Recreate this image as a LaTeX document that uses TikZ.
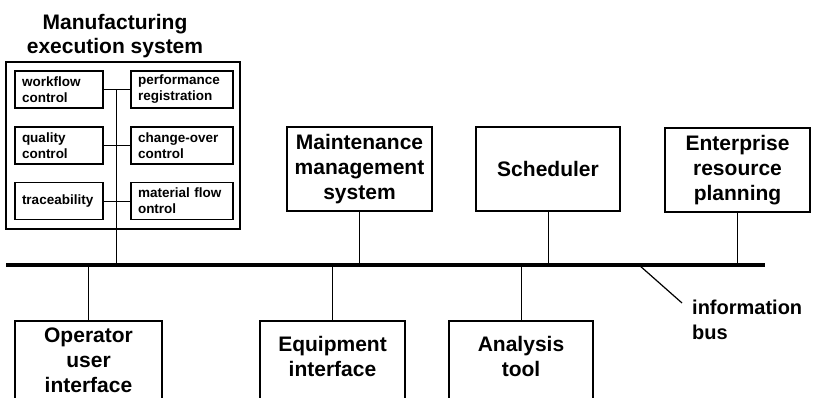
\documentclass[tikz,border=0pt]{standalone}
\usepackage{fontspec}
\setmainfont{Liberation Sans}
\begin{document}
\begin{tikzpicture}[x=1pt,y=-1pt,
  big/.style={font=\bfseries\fontsize{21}{25}\selectfont, align=center, inner sep=0pt},
  small/.style={font=\bfseries\fontsize{13.5}{16}\selectfont, align=left},
  sysbox/.style={draw, line width=1.5pt, inner sep=0pt, big},
  subbox/.style={draw, line width=1.6pt, small, inner xsep=7pt, inner ysep=0pt, minimum height=37pt},
  link/.style={line width=1pt},
  busline/.style={line width=4.5pt}]

\path[use as bounding box, clip] (0,0) rectangle (813,398);
\fill[white] (0,0) rectangle (813,398);

% information bus end points
\coordinate (busL) at (6,265);
\coordinate (busR) at (765,265);

% manufacturing execution system with its modules
\node[big, font=\bfseries\fontsize{21}{24}\selectfont, anchor=north] (mestitle) at (115,14) {Manufacturing\\execution system};
\node[draw, line width=2pt, minimum width=234pt, minimum height=167pt, inner sep=0pt] (mes) at (123,145.5) {};

\node[subbox, text width=74pt] (wf) at (59,89.5) {workflow\\control};
\node[subbox, text width=88pt] (pr) at (182,89.5) {performance\\registration};
\node[subbox, text width=74pt] (qc) at (59,145.5) {quality\\control};
\node[subbox, text width=88pt] (co) at (182,145.5) {change-over\\control};
\node[subbox, text width=74pt] (tr) at (59,201) {traceability};
\node[subbox, text width=88pt] (mf) at (182,201) {material flow\\ontrol};

\draw[link] (wf.east) -- (pr.west);
\draw[link] (qc.east) -- (co.west);
\draw[link] (tr.east) -- (mf.west);
\coordinate (mv) at (116,89.5);
\draw[link] (mv) -- (mv |- busL);

% systems above the bus
\node[sysbox, minimum width=145pt, minimum height=84pt] (mms) at (359.5,169) {Maintenance\\management\\system};
\node[sysbox, minimum width=144pt, minimum height=84pt] (sch) at (548,169) {Scheduler};
\node[sysbox, minimum width=145pt, minimum height=84pt] (erp) at (737.5,170) {Enterprise\\resource\\planning};

\draw[link] (mms.south) -- (mms.south |- busL);
\draw[link] (sch.south) -- (sch.south |- busL);
\draw[link] (erp.south) -- (erp.south |- busL);

% systems below the bus
\node[sysbox, minimum width=147pt, minimum height=100pt, anchor=north] (oui) at (88.5,320) {};
\node[big, anchor=north] (ouitext) at (88.5,328) {Operator\\user\\interface};
\node[sysbox, minimum width=145pt, minimum height=100pt, anchor=north] (eqi) at (332.5,320) {};
\node[big, anchor=north] (eqitext) at (332.5,336.5) {Equipment\\interface};
\node[sysbox, minimum width=144pt, minimum height=100pt, anchor=north] (ant) at (521,320) {};
\node[big, anchor=north] (anttext) at (521,336.5) {Analysis\\tool};

\draw[link] (oui.north) -- (oui.north |- busL);
\draw[link] (eqi.north) -- (eqi.north |- busL);
\draw[link] (ant.north) -- (ant.north |- busL);

% the bus itself and its label
\draw[busline] (busL) -- (busR);
\node[big, font=\bfseries\fontsize{20}{25}\selectfont, align=left, anchor=north west] (ibus) at (692,300) {information\\bus};
\coordinate (bustap) at (639,265);
\coordinate (ibend) at (682,303);
\draw[line width=1.2pt] (bustap) -- (ibend);
\end{tikzpicture}
\end{document}
